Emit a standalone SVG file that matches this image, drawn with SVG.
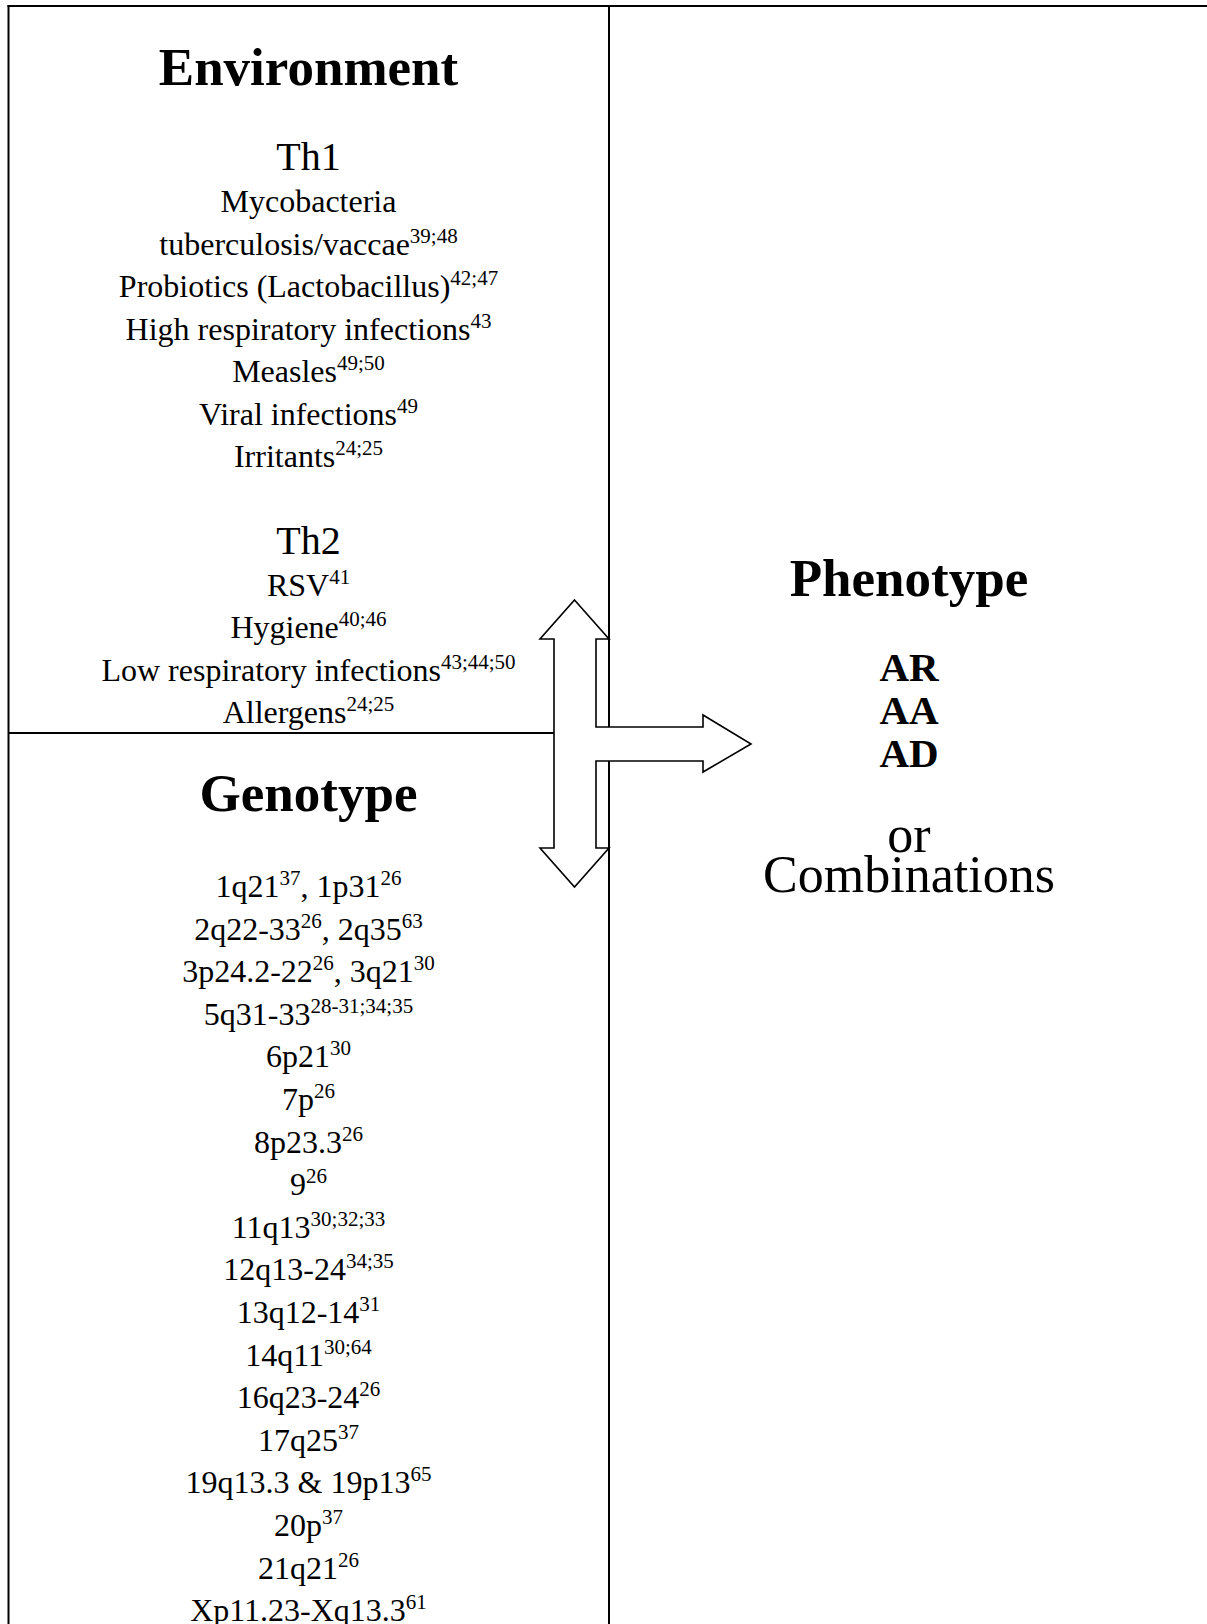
<svg xmlns="http://www.w3.org/2000/svg" width="1207" height="1624" viewBox="0 0 1207 1624">
<style>
text{font-family:"Liberation Serif","Times New Roman",serif;fill:#000;text-anchor:middle}
.h{font-weight:bold;font-size:53px}
.sub{font-size:40px}
.t{font-size:32px}
.s{font-size:21px}
.p{font-weight:bold;font-size:41px}
.o{font-size:52px}
.frame{stroke:#000;stroke-width:2;fill:none}
.arrow{fill:#fff;stroke:#000;stroke-width:1.6;stroke-linejoin:miter}
</style>
<rect width="1207" height="1624" fill="#fff"/>
<g id="frame">
<line class="frame" x1="7.5" y1="6" x2="1207" y2="6"/>
<line class="frame" x1="8.5" y1="5" x2="8.5" y2="1624"/>
<line class="frame" x1="609" y1="5" x2="609" y2="1624"/>
<line class="frame" x1="8" y1="733" x2="555" y2="733"/>
</g>
<g id="environment">
<text class="h" x="308.5" y="85">Environment</text>
<text class="sub" x="308.5" y="170">Th1</text>
<text class="t" x="308.5" y="212">Mycobacteria</text>
<text class="t" x="308.5" y="255">tuberculosis/vaccae<tspan class="s" dy="-12">39;48</tspan></text>
<text class="t" x="308.5" y="297">Probiotics (Lactobacillus)<tspan class="s" dy="-12">42;47</tspan></text>
<text class="t" x="308.5" y="340">High respiratory infections<tspan class="s" dy="-12">43</tspan></text>
<text class="t" x="308.5" y="382">Measles<tspan class="s" dy="-12">49;50</tspan></text>
<text class="t" x="308.5" y="425">Viral infections<tspan class="s" dy="-12">49</tspan></text>
<text class="t" x="308.5" y="467">Irritants<tspan class="s" dy="-12">24;25</tspan></text>
<text class="sub" x="308.5" y="554">Th2</text>
<text class="t" x="308.5" y="596">RSV<tspan class="s" dy="-12">41</tspan></text>
<text class="t" x="308.5" y="638">Hygiene<tspan class="s" dy="-12">40;46</tspan></text>
<text class="t" x="308.5" y="681">Low respiratory infections<tspan class="s" dy="-12">43;44;50</tspan></text>
<text class="t" x="308.5" y="723">Allergens<tspan class="s" dy="-12">24;25</tspan></text>
</g>
<g id="genotype">
<text class="h" x="308.5" y="811">Genotype</text>
<text class="t" x="308.5" y="897">1q21<tspan class="s" dy="-12">37</tspan><tspan dy="12">, 1p31</tspan><tspan class="s" dy="-12">26</tspan></text>
<text class="t" x="308.5" y="939.6">2q22-33<tspan class="s" dy="-12">26</tspan><tspan dy="12">, 2q35</tspan><tspan class="s" dy="-12">63</tspan></text>
<text class="t" x="308.5" y="982.2">3p24.2-22<tspan class="s" dy="-12">26</tspan><tspan dy="12">, 3q21</tspan><tspan class="s" dy="-12">30</tspan></text>
<text class="t" x="308.5" y="1024.8">5q31-33<tspan class="s" dy="-12">28-31;34;35</tspan></text>
<text class="t" x="308.5" y="1067.4">6p21<tspan class="s" dy="-12">30</tspan></text>
<text class="t" x="308.5" y="1110">7p<tspan class="s" dy="-12">26</tspan></text>
<text class="t" x="308.5" y="1152.6">8p23.3<tspan class="s" dy="-12">26</tspan></text>
<text class="t" x="308.5" y="1195.2">9<tspan class="s" dy="-12">26</tspan></text>
<text class="t" x="308.5" y="1237.8">11q13<tspan class="s" dy="-12">30;32;33</tspan></text>
<text class="t" x="308.5" y="1280.4">12q13-24<tspan class="s" dy="-12">34;35</tspan></text>
<text class="t" x="308.5" y="1323">13q12-14<tspan class="s" dy="-12">31</tspan></text>
<text class="t" x="308.5" y="1365.6">14q11<tspan class="s" dy="-12">30;64</tspan></text>
<text class="t" x="308.5" y="1408.2">16q23-24<tspan class="s" dy="-12">26</tspan></text>
<text class="t" x="308.5" y="1450.8">17q25<tspan class="s" dy="-12">37</tspan></text>
<text class="t" x="308.5" y="1493.4">19q13.3 &amp; 19p13<tspan class="s" dy="-12">65</tspan></text>
<text class="t" x="308.5" y="1536">20p<tspan class="s" dy="-12">37</tspan></text>
<text class="t" x="308.5" y="1578.6">21q21<tspan class="s" dy="-12">26</tspan></text>
<text class="t" x="308.5" y="1621.2">Xp11.23-Xq13.3<tspan class="s" dy="-12">61</tspan></text>
</g>
<g id="phenotype">
<text class="h" x="909" y="596">Phenotype</text>
<text class="p" x="909" y="681">AR</text>
<text class="p" x="909" y="724">AA</text>
<text class="p" x="909" y="767">AD</text>
<text class="o" x="909" y="852">or</text>
<text class="o" x="909" y="892">Combinations</text>
</g>
<g id="connectors">
<polygon class="arrow" points="574.5,600 609,639 596,639 596,727 703,727 703,715 751,744 703,772 703,761 596,761 596,848 609,848 574.5,887 540,848 554,848 554,639 540,639"/>
</g>
</svg>
